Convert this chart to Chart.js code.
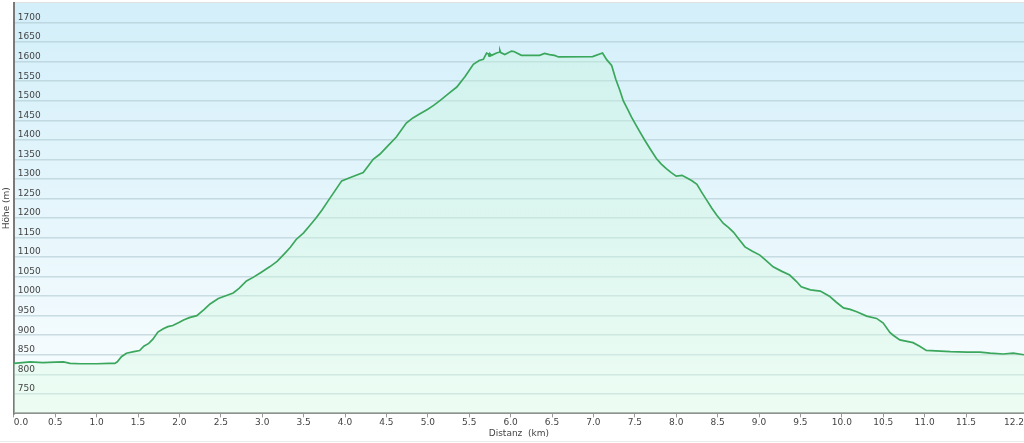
<!DOCTYPE html>
<html>
<head>
<meta charset="utf-8">
<script src="https://cdn.jsdelivr.net/npm/chart.js@4/dist/chart.umd.min.js"></script>
<style>
  html, body { margin: 0; padding: 0; background: #fff; }
  canvas { display: block; }
</style>
</head>
<body>
<canvas id="profile" width="1024" height="443"></canvas>
<script>
// elevation profile: distance (km) / height (m)
const distKm = [
  0.00, 0.10, 0.20, 0.35, 0.50, 0.60, 0.68, 0.80, 1.00, 1.15, 1.22, 1.25, 1.30, 1.36, 1.45, 1.52,
  1.57, 1.63, 1.68, 1.74, 1.80, 1.86, 1.92, 2.00, 2.05, 2.12, 2.21, 2.30, 2.37, 2.47, 2.56, 2.65,
  2.72, 2.81, 2.89, 2.98, 3.09, 3.18, 3.27, 3.34, 3.41, 3.50, 3.58, 3.65, 3.72, 3.80, 3.88, 3.96,
  4.08, 4.22, 4.28, 4.34, 4.42, 4.52, 4.62, 4.74, 4.82, 4.90, 5.00, 5.07, 5.15, 5.25, 5.35, 5.45,
  5.55, 5.62, 5.67, 5.71, 5.73, 5.74, 5.75, 5.77, 5.83, 5.86, 5.87, 5.88, 5.93, 6.01, 6.04, 6.13,
  6.35, 6.41, 6.47, 6.53, 6.58, 6.99, 7.11, 7.16, 7.22, 7.27, 7.32, 7.36, 7.42, 7.46, 7.54, 7.62,
  7.69, 7.76, 7.82, 7.88, 7.94, 8.00, 8.07, 8.13, 8.19, 8.25, 8.31, 8.37, 8.43, 8.49, 8.57, 8.63,
  8.69, 8.76, 8.83, 8.92, 9.01, 9.09, 9.17, 9.27, 9.37, 9.45, 9.51, 9.62, 9.74, 9.85, 9.93, 10.02,
  10.10, 10.18, 10.30, 10.42, 10.50, 10.58, 10.62, 10.70, 10.86, 10.94, 11.02, 11.31, 11.51, 11.67, 11.79, 11.95,
  12.07, 12.20
];
const elevM = [
  828, 830, 832, 830, 831, 832, 828, 827, 827, 828, 828, 832, 845, 854, 858, 861,
  872, 879, 890, 908, 916, 922, 925, 933, 939, 945, 950, 966, 980, 994, 1001, 1008,
  1020, 1039, 1048, 1060, 1075, 1089, 1109, 1125, 1145, 1162, 1182, 1200, 1220, 1245, 1270, 1295,
  1305, 1316, 1333, 1350, 1363, 1385, 1407, 1443, 1456, 1466, 1478, 1488, 1501, 1518, 1535, 1562,
  1593, 1603, 1606, 1622, 1620, 1614, 1620, 1616, 1622, 1624, 1629, 1623, 1618, 1627, 1626, 1616,
  1616, 1621, 1618, 1616, 1612, 1613, 1622, 1605, 1590, 1555, 1526, 1500, 1475, 1458, 1428, 1399,
  1375, 1352, 1338, 1326, 1316, 1307, 1309, 1302, 1295, 1286, 1265, 1245, 1225, 1207, 1186, 1176,
  1164, 1145, 1126, 1115, 1105, 1090, 1075, 1064, 1054, 1038, 1024, 1016, 1013, 1000, 985, 970,
  966, 960, 949, 943, 931, 907, 900, 888, 881, 872, 861, 858, 857, 857, 854, 852,
  854, 850
];
const xTicks = [0, 0.5, 1, 1.5, 2, 2.5, 3, 3.5, 4, 4.5, 5, 5.5, 6, 6.5, 7, 7.5, 8, 8.5, 9, 9.5, 10, 10.5, 11, 11.5, 12.2];
const yTicks = [750, 800, 850, 900, 950, 1000, 1050, 1100, 1150, 1200, 1250, 1300, 1350, 1400, 1450, 1500, 1550, 1600, 1650, 1700];

const points = distKm.map((d, i) => ({ x: d, y: elevM[i] }));
const tickFont = { family: 'DejaVu Sans', size: 9 };

// sky-like gradient behind the plot plus the thin frame lines
const plotBackground = {
  id: 'plotBackground',
  beforeDraw(chart) {
    const { ctx, chartArea: a } = chart;
    const g = ctx.createLinearGradient(0, a.top, 0, a.bottom);
    g.addColorStop(0, '#d3effa');
    g.addColorStop(0.6, '#e9f7fc');
    g.addColorStop(1, '#fbfeff');
    ctx.save();
    ctx.fillStyle = g;
    ctx.fillRect(a.left, a.top, a.right - a.left, a.bottom - a.top);
    ctx.fillStyle = '#e2e2e2';
    ctx.fillRect(a.left, a.top - 1, a.right - a.left, 1);
    ctx.fillStyle = '#ececec';
    ctx.fillRect(0, chart.height - 2, chart.width, 1);
    ctx.restore();
  }
};

// height labels sit inside the plot, just above their grid line, on top of the fill
const heightLabels = {
  id: 'heightLabels',
  afterDatasetsDraw(chart) {
    const { ctx, scales: { y }, chartArea: a } = chart;
    ctx.save();
    ctx.font = '9px "DejaVu Sans"';
    ctx.fillStyle = '#444';
    ctx.textAlign = 'left';
    ctx.textBaseline = 'middle';
    yTicks.forEach(v => ctx.fillText(String(v), a.left + 4, y.getPixelForValue(v) - 5));
    ctx.restore();
  }
};

new Chart(document.getElementById('profile'), {
  type: 'line',
  data: {
    datasets: [{
      data: points,
      borderColor: '#3ba75c',
      borderWidth: 1.7,
      pointRadius: 0,
      tension: 0,
      fill: 'start',
      backgroundColor: (ctx) => {
        const a = ctx.chart.chartArea;
        if (!a) return 'rgba(190,245,210,0.3)';
        const g = ctx.chart.ctx.createLinearGradient(0, a.top, 0, a.bottom);
        g.addColorStop(0, 'rgba(195,245,215,0.35)');
        g.addColorStop(1, 'rgba(215,250,225,0.4)');
        return g;
      }
    }]
  },
  options: {
    responsive: false,
    animation: false,
    layout: { padding: { top: 3, left: 0, right: 0, bottom: 0 } },
    plugins: {
      legend: { display: false },
      tooltip: { enabled: false }
    },
    scales: {
      x: {
        type: 'linear',
        min: 0,
        max: 12.2,
        afterBuildTicks: (s) => { s.ticks = xTicks.map(v => ({ value: v })); },
        afterFit: (s) => { s.paddingLeft = 0; s.paddingRight = 0; },
        ticks: {
          align: 'inner',
          padding: 0,
          maxRotation: 0,
          autoSkip: false,
          color: '#444',
          font: tickFont,
          callback: (v) => (Math.floor(v * 10 + 1e-6) / 10).toFixed(1)
        },
        grid: { drawOnChartArea: false, drawTicks: true, tickLength: 4, color: '#999' },
        border: { display: true, color: '#8c8c8c', width: 2 },
        title: {
          display: true,
          text: 'Distanz  (km)',
          color: '#444',
          font: tickFont,
          padding: { top: 0, bottom: 4 }
        }
      },
      y: {
        min: 700,
        max: 1750,
        afterBuildTicks: (s) => { s.ticks = yTicks.map(v => ({ value: v })); },
        afterFit: (s) => { s.paddingTop = 0; s.paddingBottom = 0; },
        ticks: { display: false },
        grid: { drawTicks: false, color: 'rgba(175,200,208,0.6)', lineWidth: 1.5 },
        border: { display: true, color: '#7a7a7a', width: 2 },
        title: {
          display: true,
          text: 'Höhe (m)',
          color: '#444',
          font: tickFont,
          padding: { top: 1, bottom: 2 }
        }
      }
    }
  },
  plugins: [plotBackground, heightLabels]
});
</script>
</body>
</html>
